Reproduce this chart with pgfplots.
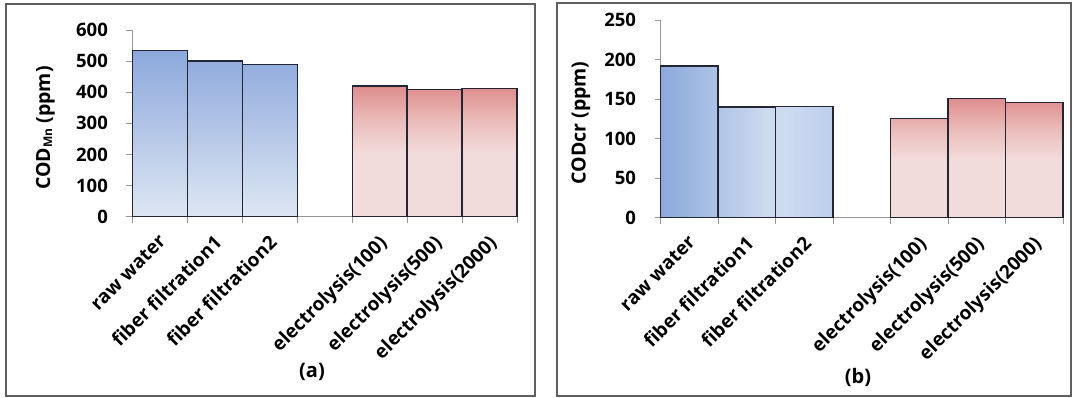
\documentclass[border=0pt]{standalone}
\usepackage{fontspec}
\setmainfont{Open Sans}
\usepackage{pgfplots}
\pgfplotsset{compat=1.18}
\definecolor{framec}{RGB}{95,95,95}
\definecolor{axgray}{RGB}{150,150,150}
\definecolor{barline}{RGB}{35,38,50}
\definecolor{blueT}{RGB}{140,168,220}
\definecolor{blueB}{RGB}{222,230,243}
\definecolor{blueD}{RGB}{138,168,218}
\definecolor{blueL}{RGB}{205,218,240}
\definecolor{blueM}{RGB}{188,206,235}
\definecolor{redT}{RGB}{222,140,140}
\definecolor{redM}{RGB}{234,188,186}
\definecolor{pinkL}{RGB}{242,220,219}
\pgfdeclareverticalshading{redsh}{100bp}{color(0bp)=(pinkL); color(25bp)=(pinkL); color(49bp)=(pinkL); color(62bp)=(redM); color(75bp)=(redT); color(100bp)=(redT)}
\pgfdeclarehorizontalshading{bluesh}{100bp}{color(0bp)=(blueD); color(25bp)=(blueD); color(55bp)=(blueL); color(62bp)=(blueL); color(75bp)=(blueM); color(100bp)=(blueM)}
\pgfplotsset{
  panel/.style={
    scale only axis,
    xmin=-0.5, xmax=6.5, ymin=0,
    axis x line*=bottom, axis y line*=left,
    axis line style={axgray, line width=0.8pt},
    tick style={axgray, line width=0.8pt},
    tick align=outside, major tick length=6pt,
    xtick={-0.5,0.5,...,6.5}, xticklabels={},
    extra x ticks={0,1,2,4,5,6},
    extra x tick labels={raw water,fiber filtration1,fiber filtration2,electrolysis(100),electrolysis(500),electrolysis(2000)},
    extra x tick style={major tick length=0pt, tick label style={rotate=45, anchor=north east, font=\fontsize{19}{22}\selectfont\bfseries, xshift=-13.4pt, yshift=-10.6pt, inner sep=0pt}},
    y tick label style={font=\fontsize{18.5}{20}\selectfont\bfseries, xshift=-15pt},
    /pgf/number format/assume math mode=true,
    ylabel style={font=\fontsize{19.5}{22}\selectfont\bfseries, anchor=center},
    ybar, bar width=1, bar shift=0pt,
    clip=false,
  }
}
\begin{document}
\begin{tikzpicture}
\useasboundingbox (0,0) rectangle (1074pt,398pt);
\draw[framec, line width=1.3pt] (6pt,2pt) rectangle (535pt,394pt);
\draw[framec, line width=1.3pt] (557pt,2pt) rectangle (1071pt,395pt);
\begin{axis}[panel, at={(132.4pt,181.3pt)}, anchor=south west,
  width=384.6pt, height=186.7pt, ymax=600, ytick={0,100,...,600},
  ylabel={COD\raisebox{-2pt}{\fontsize{12}{12}\selectfont Mn} (ppm)},
  ylabel style={at={(axis description cs:-0.226,0.475)}}]
\addplot[draw=barline, line width=1.3pt, top color=blueT, bottom color=blueB] coordinates {(0,534) (1,500) (2,488)};
\addplot[draw=barline, line width=1.3pt, shade, shading=redsh] coordinates {(4,420) (5,409) (6,411)};
\end{axis}
\begin{axis}[panel, at={(660.5pt,180.3pt)}, anchor=south west,
  width=402.5pt, height=197.7pt, ymax=250, ytick={0,50,...,250},
  ylabel={CODcr (ppm)},
  ylabel style={at={(axis description cs:-0.1975,0.479)}}]
\addplot[draw=barline, line width=1.3pt, shade, shading=bluesh] coordinates {(0,192) (1,140) (2,141)};
\addplot[draw=barline, line width=1.3pt, shade, shading=redsh] coordinates {(4,125) (5,151) (6,146)};
\end{axis}
\node[font=\fontsize{20}{22}\selectfont\bfseries] at (312pt,26pt) {(a)};
\node[font=\fontsize{20}{22}\selectfont\bfseries] at (858pt,21pt) {(b)};
\end{tikzpicture}
\end{document}
